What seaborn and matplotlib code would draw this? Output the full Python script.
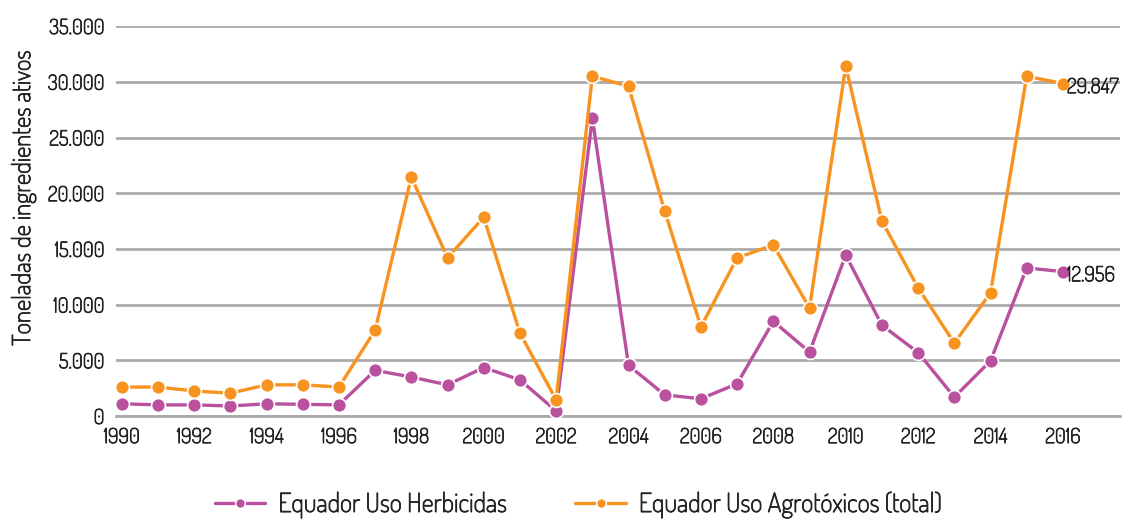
"""Uso de agrotóxicos no Equador, 1990-2016."""

import matplotlib
matplotlib.use("Agg")
import matplotlib.pyplot as plt
import matplotlib.patheffects as pe
from matplotlib.ticker import FuncFormatter, MultipleLocator
import pandas as pd
import seaborn as sns

years = list(range(1990, 2017))

herbicidas = [1100, 1000, 1000, 900, 1100, 1050, 1000, 4100, 3500, 2800,
              4350, 3250, 450, 26750, 4550, 1900, 1550, 2900, 8500, 5750,
              14450, 8150, 5700, 1700, 4950, 13300, 12956]

agrotoxicos = [2600, 2600, 2250, 2050, 2800, 2800, 2600, 7700, 21450, 14200,
               17850, 7450, 1450, 30500, 29600, 18400, 8000, 14200, 15350, 9700,
               31400, 17500, 11500, 6550, 11050, 30500, 29847]

series_names = ["Equador Uso Herbicidas", "Equador Uso Agrotóxicos (total)"]
end_labels = ["12.956", "29.847"]

TEXT = "#222222"
COLORS = {
    series_names[0]: "#B9519F",
    series_names[1]: "#F7931E",
}

df = pd.DataFrame({
    "ano": years * 2,
    "valor": herbicidas + agrotoxicos,
    "serie": [series_names[0]] * len(years) + [series_names[1]] * len(years),
})

sns.set_theme(style="white")
plt.rcParams["font.family"] = ["Dosis", "Liberation Sans Narrow", "DejaVu Sans"]

# the installed Dosis is light, thicken the glyphs a bit
bold = [pe.withStroke(linewidth=0.6, foreground=TEXT)]

fig = plt.figure(figsize=(11.22, 5.22), dpi=100)
ax = fig.add_axes([0.103, 0.203, 0.895, 0.747])

ax.yaxis.grid(True, color="#ababab", linewidth=2)
ax.set_axisbelow(True)

sns.lineplot(
    data=df, x="ano", y="valor", hue="serie", hue_order=series_names,
    palette=COLORS, marker="o", markersize=10, markeredgecolor="white",
    markeredgewidth=1.2, linewidth=2.4, ax=ax, legend=False, clip_on=False,
    zorder=3,
)

for name, vals, lab in zip(series_names, [herbicidas, agrotoxicos], end_labels):
    ax.annotate(lab, (years[-1], vals[-1]), xytext=(3, -3),
                textcoords="offset points", ha="left", va="center",
                fontsize=15, color=TEXT, path_effects=bold)

ax.set_xlim(1989.83, 2017.57)
ax.set_ylim(0, 35000)
ax.yaxis.set_major_locator(MultipleLocator(5000))
ax.yaxis.set_major_formatter(
    FuncFormatter(lambda v, _: f"{int(v):,}".replace(",", ".")))
ax.set_xticks(list(range(1990, 2017, 2)))

for side in ["top", "right", "left"]:
    ax.spines[side].set_visible(False)
ax.spines["bottom"].set_color("#ababab")
ax.spines["bottom"].set_linewidth(2)

ax.tick_params(axis="x", length=7, width=1.5, color="#ababab",
               labelsize=15, labelcolor=TEXT, pad=1)
ax.tick_params(axis="y", length=0, labelsize=15, labelcolor=TEXT, pad=8)

ax.set_xlabel("")
ax.set_ylabel("Toneladas de ingredientes ativos", fontsize=18, color=TEXT,
              path_effects=bold)
ax.yaxis.set_label_coords(-0.079, 0.56)

handles = [plt.Line2D([], [], color=COLORS[n], marker="o", markersize=7,
                      markeredgecolor="white", linewidth=2.4) for n in series_names]
leg = fig.legend(handles, series_names, loc="lower center", ncol=2, frameon=False,
                 bbox_to_anchor=(0.5156, -0.038), fontsize=19, handlelength=1.9,
                 handletextpad=0.5, columnspacing=2.6, labelcolor=TEXT)
for t in leg.get_texts():
    t.set_path_effects(bold)

fig.canvas.draw()
for t in ax.get_xticklabels() + ax.get_yticklabels():
    t.set_path_effects(bold)

fig.savefig("out.png", dpi=100)
